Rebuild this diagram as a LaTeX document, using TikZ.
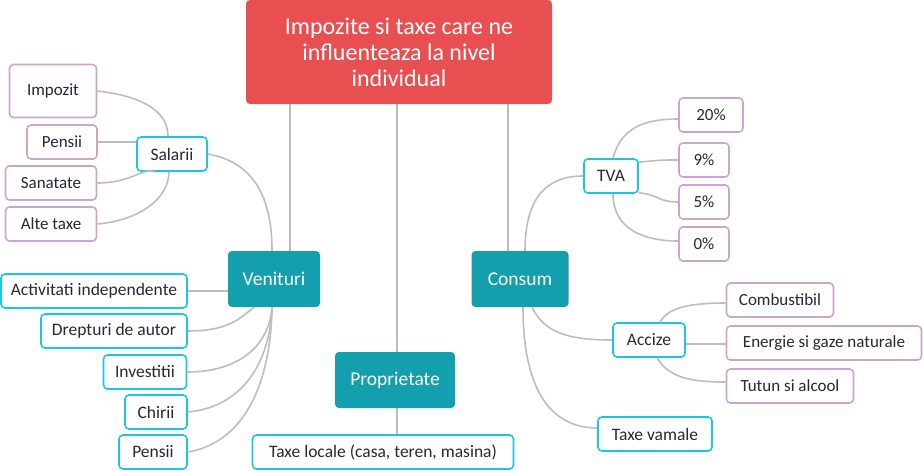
\documentclass[tikz,border=0pt]{standalone}
\usepackage{fontspec}
\setmainfont{Carlito}
\usetikzlibrary{positioning}

\definecolor{rootred}{HTML}{E84F51}
\definecolor{mainteal}{HTML}{139FAE}
\definecolor{subcyan}{HTML}{1BC6E0}
\definecolor{leafpurple}{HTML}{CBA6CC}
\definecolor{linkgrey}{HTML}{BDBDBD}
\definecolor{textdark}{HTML}{262836}

\tikzset{
  rootbox/.style={fill=rootred, text=white, rounded corners=4pt, align=center,
    minimum width=306pt, minimum height=104pt, font=\fontsize{24}{26}\selectfont},
  mainbox/.style={fill=mainteal, text=white, rounded corners=4pt,
    minimum height=56pt, font=\fontsize{19.5}{22}\selectfont},
  subbox/.style={draw=subcyan, line width=1.6pt, fill=white, text=textdark,
    rounded corners=4pt, minimum height=34pt, font=\fontsize{17.5}{20}\selectfont},
  leafbox/.style={draw=leafpurple, line width=1.6pt, fill=white, text=textdark,
    rounded corners=4pt, minimum height=34pt, font=\fontsize{17}{20}\selectfont},
  link/.style={draw=linkgrey, line width=1.6pt}
}

\begin{document}
\begin{tikzpicture}[x=1pt, y=-1pt]
  \useasboundingbox (0,0) rectangle (924,471);

  % Radacina
  \node[rootbox] (root) at (399,52) {Impozite si taxe care ne\\influenteaza la nivel\\individual};

  % Ramuri principale
  \node[mainbox, minimum width=92pt] (venit) at (274,279) {Venituri};
  \node[mainbox, minimum width=120pt] (prop) at (395,380) {Proprietate};
  \node[mainbox, minimum width=97pt] (cons) at (520,279) {Consum};

  % Venituri
  \node[subbox, minimum width=70pt] (sal) at (172,154) {Salarii};
  \node[leafbox, minimum width=87pt, minimum height=53pt] (imp) at (53,91) {Impozit};
  \node[leafbox, minimum width=70pt] (pen1) at (62,142) {Pensii};
  \node[leafbox, minimum width=91pt] (san) at (51,183) {Sanatate};
  \node[leafbox, minimum width=91pt] (alte) at (51,224) {Alte taxe};
  \node[subbox, minimum width=186pt] (act) at (94,291) {Activitati independente};
  \node[subbox, minimum width=146pt] (drep) at (114,331) {Drepturi de autor};
  \node[subbox, minimum width=83pt] (inv) at (145,372) {Investitii};
  \node[subbox, minimum width=62pt] (chir) at (156,412) {Chirii};
  \node[subbox, minimum width=68pt] (pen2) at (153,452) {Pensii};

  % Proprietate
  \node[subbox, minimum width=261pt] (loc) at (383,452) {Taxe locale (casa, teren, masina)};

  % Consum
  \node[subbox, minimum width=54pt] (tva) at (611,176) {TVA};
  \node[leafbox, minimum width=64pt] (p20) at (711,115) {20\%};
  \node[leafbox, minimum width=50pt] (p9) at (704,160) {9\%};
  \node[leafbox, minimum width=50pt] (p5) at (704,202) {5\%};
  \node[leafbox, minimum width=50pt] (p0) at (704,244) {0\%};
  \node[subbox, minimum width=72pt] (acc) at (649,340) {Accize};
  \node[leafbox, minimum width=107pt] (comb) at (780,300) {Combustibil};
  \node[leafbox, minimum width=195pt] (ener) at (824,343) {Energie si gaze naturale};
  \node[leafbox, minimum width=127pt] (tut) at (790,386) {Tutun si alcool};
  \node[subbox, minimum width=114pt] (vam) at (655,434) {Taxe vamale};

  % Legaturi din radacina
  \draw[link] ([xshift=16pt]venit.north) -- ([xshift=16pt]venit.north |- root.south);
  \draw[link] ([xshift=2pt]prop.north) -- ([xshift=2pt]prop.north |- root.south);
  \draw[link] ([xshift=-12pt]cons.north) -- ([xshift=-12pt]cons.north |- root.south);

  % Legaturi Venituri
  \draw[link] (sal.east) .. controls +(45,8) and +(0,-55) .. ([xshift=-2pt]venit.north);
  \draw[link] (imp.east) .. controls +(45,5) and +(0,-25) .. ([xshift=-4pt]sal.north);
  \draw[link] (pen1.east) -- (pen1.east -| sal.west);
  \draw[link] (san.east) .. controls +(35,0) and +(-12,-5) .. ([xshift=-17pt]sal.south);
  \draw[link] (alte.east) .. controls +(45,-4) and +(0,25) .. ([xshift=-3pt]sal.south);
  \draw[link] (act.east) -- (act.east -| venit.west);
  \draw[link] (drep.east) .. controls +(40,0) and +(-15,12) .. ([xshift=-20pt]venit.south);
  \draw[link] (inv.east) .. controls +(50,0) and +(-3,40) .. ([xshift=-2pt]venit.south);
  \draw[link] (chir.east) .. controls +(55,-5) and +(-2,55) .. ([xshift=-2pt]venit.south);
  \draw[link] (pen2.east) .. controls +(60,-10) and +(-1,70) .. ([xshift=-2pt]venit.south);

  % Legaturi Proprietate
  \draw[link] ([xshift=2pt]prop.south) -- ([xshift=2pt]prop.south |- loc.north);

  % Legaturi Consum
  \draw[link] ([xshift=5pt]cons.north) .. controls +(0,-55) and +(-35,0) .. (tva.west);
  \draw[link] ([xshift=12pt]cons.south) .. controls +(12,25) and +(-45,0) .. (acc.west);
  \draw[link] ([xshift=3pt]cons.south) .. controls +(0,85) and +(-45,0) .. ([yshift=6pt]vam.west);
  \draw[link] ([xshift=2pt]tva.north) .. controls +(8,-30) and +(-35,0) .. ([yshift=-4pt]p20.west);
  \draw[link] ([yshift=-4pt]tva.north east) .. controls +(20,-2) and +(-20,0) .. (p9.west);
  \draw[link] ([yshift=1pt]tva.south east) .. controls +(20,2) and +(-20,0) .. (p5.west);
  \draw[link] ([xshift=2pt]tva.south) .. controls +(0,35) and +(-35,0) .. ([yshift=3pt]p0.west);
  \draw[link] ([xshift=11pt]acc.north) .. controls +(8,-15) and +(-35,0) .. ([yshift=-3pt]comb.west);
  \draw[link] ([yshift=-4pt]acc.east) -- ([yshift=-4pt]acc.east -| ener.west);
  \draw[link] ([xshift=8pt]acc.south) .. controls +(12,20) and +(-35,0) .. ([yshift=4pt]tut.west);
\end{tikzpicture}
\end{document}
